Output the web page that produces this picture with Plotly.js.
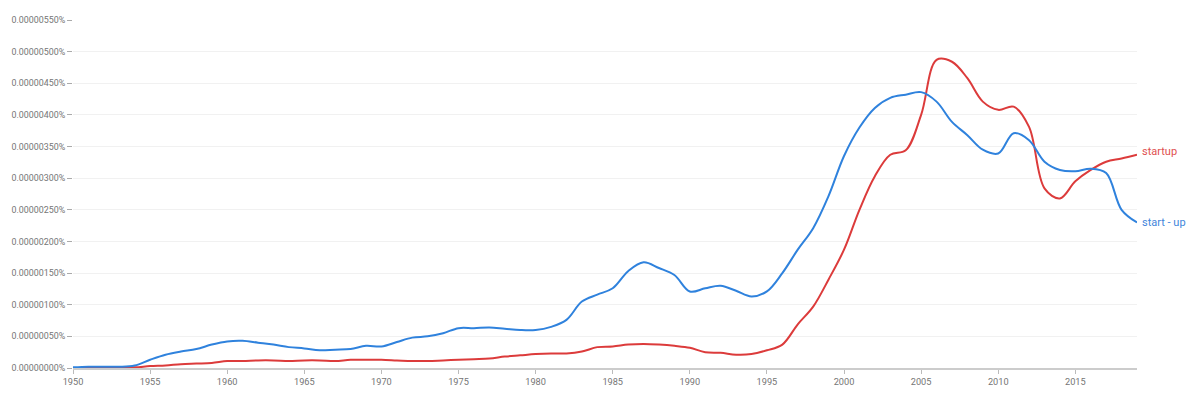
<!DOCTYPE html>
<html>
<head>
<meta charset="utf-8">
<script src="https://cdn.plot.ly/plotly-3.0.1.min.js"></script>
<style>
html,body{margin:0;padding:0;background:#fff;}
#chart{width:1200px;height:393px;}
</style>
</head>
<body>
<div id="chart"></div>
<script>
// Years 1950..2019
const years = [1950,1951,1952,1953,1954,1955,1956,1957,1958,1959,
  1960,1961,1962,1963,1964,1965,1966,1967,1968,1969,
  1970,1971,1972,1973,1974,1975,1976,1977,1978,1979,
  1980,1981,1982,1983,1984,1985,1986,1987,1988,1989,
  1990,1991,1992,1993,1994,1995,1996,1997,1998,1999,
  2000,2001,2002,2003,2004,2005,2006,2007,2008,2009,
  2010,2011,2012,2013,2014,2015,2016,2017,2018,2019];

// Values in percent (e.g. 337e-8 = 0.00000337%)
const startupPct = [0e-8,0e-8,0e-8,1e-8,1e-8,3e-8,4e-8,6e-8,7e-8,8e-8,
  11e-8,11e-8,12e-8,12e-8,11e-8,12e-8,12e-8,11e-8,13e-8,13e-8,
  13e-8,12e-8,11e-8,11e-8,12e-8,13e-8,14e-8,15e-8,18e-8,20e-8,
  22e-8,23e-8,23e-8,26e-8,33e-8,34e-8,37e-8,38e-8,37e-8,35e-8,
  32e-8,25e-8,24e-8,21e-8,22e-8,28e-8,37e-8,69e-8,97e-8,140e-8,
  187e-8,250e-8,303e-8,337e-8,344e-8,400e-8,487e-8,484e-8,458e-8,421e-8,
  408e-8,413e-8,381e-8,284e-8,268e-8,295e-8,313e-8,326e-8,331e-8,337e-8];

const startDashUpPct = [1e-8,2e-8,2e-8,2e-8,4e-8,13e-8,21e-8,26e-8,30e-8,37e-8,
  42e-8,43e-8,40e-8,37e-8,33e-8,31e-8,28e-8,29e-8,30e-8,35e-8,
  34e-8,41e-8,48e-8,50e-8,55e-8,63e-8,63e-8,64e-8,62e-8,60e-8,
  60e-8,65e-8,76e-8,105e-8,116e-8,126e-8,153e-8,167e-8,158e-8,147e-8,
  121e-8,126e-8,130e-8,122e-8,113e-8,121e-8,150e-8,187e-8,221e-8,272e-8,
  335e-8,380e-8,411e-8,427e-8,432e-8,436e-8,421e-8,389e-8,368e-8,345e-8,
  339e-8,371e-8,360e-8,326e-8,313e-8,311e-8,315e-8,308e-8,250e-8,230e-8];

const seriesNames = ['startup', 'start - up'];
const lineColors = ['#dc3b3b', '#2f82dd'];
const labelColors = ['#e0504f', '#3f86db'];
const yTickVals = [0,50e-8,100e-8,150e-8,200e-8,250e-8,300e-8,350e-8,400e-8,450e-8,500e-8,550e-8];
const yTickText = ['0.00000000%','0.00000050%','0.00000100%','0.00000150%','0.00000200%','0.00000250%',
  '0.00000300%','0.00000350%','0.00000400%','0.00000450%','0.00000500%','0.00000550%'];

const traces = [
  {x: years, y: startupPct, name: seriesNames[0], type: 'scatter', mode: 'lines',
   line: {color: lineColors[0], width: 2, shape: 'spline', smoothing: 1}, hoverinfo: 'skip'},
  {x: years, y: startDashUpPct, name: seriesNames[1], type: 'scatter', mode: 'lines',
   line: {color: lineColors[1], width: 2, shape: 'spline', smoothing: 1}, hoverinfo: 'skip'}
];

const lastIdx = years.length - 1;
const layout = {
  width: 1200, height: 393,
  margin: {l: 73, r: 63, t: 20, b: 25, pad: 0},
  paper_bgcolor: '#ffffff', plot_bgcolor: '#ffffff',
  showlegend: false,
  font: {family: 'Roboto, Arial, sans-serif', size: 9, color: '#757575'},
  xaxis: {
    range: [1950, 2019], tick0: 1950, dtick: 5, tickformat: 'd',
    showgrid: false, zeroline: false,
    showline: true, linecolor: '#cccccc', linewidth: 2,
    ticks: 'outside', ticklen: 4, tickcolor: '#bbbbbb', tickwidth: 1,
    tickfont: {size: 9.2, color: '#757575'}, fixedrange: true
  },
  yaxis: {
    range: [0, 550e-8], tickmode: 'array', tickvals: yTickVals, ticktext: yTickText,
    showgrid: true, gridcolor: '#f1f1f1', gridwidth: 1, zeroline: false,
    showline: false, ticks: 'outside', ticklen: 5, tickcolor: '#aaaaaa', tickwidth: 1,
    tickfont: {size: 8.9, color: '#757575'}, fixedrange: true
  },
  annotations: [
    {x: years[lastIdx], y: startupPct[lastIdx], xref: 'x', yref: 'y', text: seriesNames[0],
     showarrow: false, xanchor: 'left', yanchor: 'middle', xshift: 3, yshift: 3,
     font: {size: 11, color: labelColors[0], family: 'Roboto, Arial, sans-serif'}},
    {x: years[lastIdx], y: startDashUpPct[lastIdx], xref: 'x', yref: 'y', text: seriesNames[1],
     showarrow: false, xanchor: 'left', yanchor: 'middle', xshift: 3,
     font: {size: 11, color: labelColors[1], family: 'Roboto, Arial, sans-serif'}}
  ]
};

Plotly.newPlot('chart', traces, layout, {displayModeBar: false, staticPlot: true});
</script>
</body>
</html>
